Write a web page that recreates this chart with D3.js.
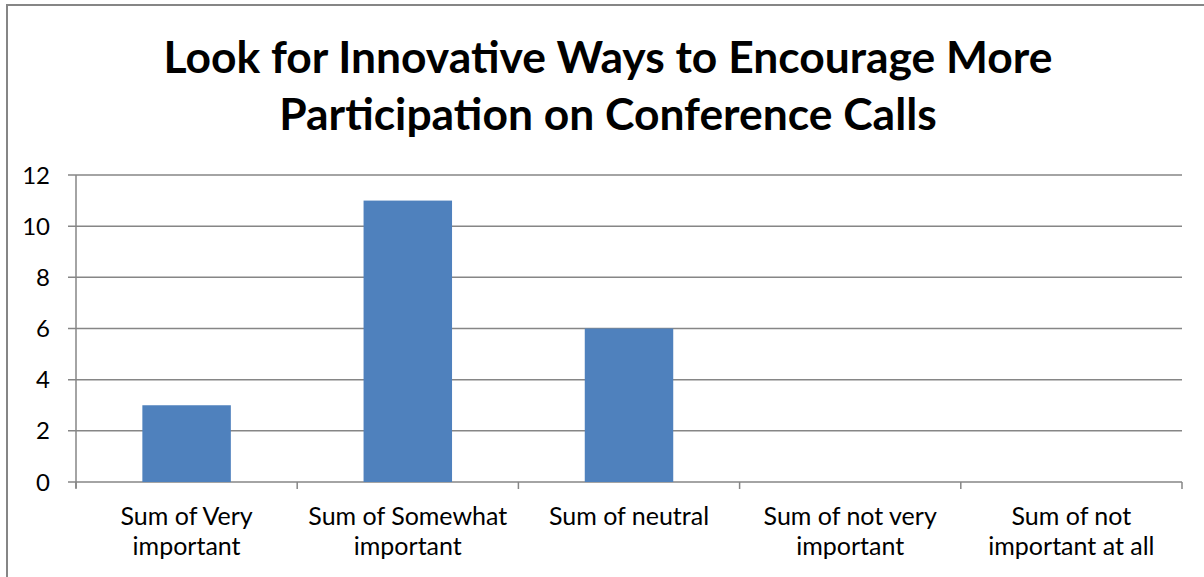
<!DOCTYPE html>
<html><head><meta charset="utf-8">
<script src="https://cdn.jsdelivr.net/npm/d3@7"></script>
<style>body{margin:0;background:#fff}svg{display:block}</style>
</head><body>
<svg id="c" width="1204" height="577"></svg>
<script>
const categories = [["Sum of Very","important"],["Sum of Somewhat","important"],["Sum of neutral"],["Sum of not very","important"],["Sum of not","important at all"]];
const values = [3, 11, 6, 0, 0];
const yTicks = [0, 2, 4, 6, 8, 10, 12];
const titleLines = ["Look for Innovative Ways to Encourage More", "Participation on Conference Calls"];

(function(){
const svg = d3.select("#c");
const font = "Lato, 'Open Sans', sans-serif";
const W = 1204, H = 577;
const pLeft = 76, pRight = 1182, pTop = 175, pBottom = 482;

svg.append("rect").attr("x",0).attr("y",0).attr("width",W).attr("height",H).attr("fill","#fff");
svg.append("rect").attr("x",7).attr("y",5).attr("width",1210).attr("height",600)
  .attr("fill","none").attr("stroke","#868686").attr("stroke-width",2);

const x = d3.scaleBand().domain(d3.range(values.length)).range([pLeft,pRight]).paddingInner(0.6).paddingOuter(0.3);
const y = d3.scaleLinear().domain([0,12]).range([pBottom,pTop]);

const g = svg.append("g");
g.selectAll("line.grid").data(yTicks).join("line")
  .attr("x1", pLeft-8).attr("x2", pRight)
  .attr("y1", d=>y(d)).attr("y2", d=>y(d))
  .attr("stroke","#868686").attr("stroke-width",1.5);
g.append("line").attr("x1",pLeft).attr("x2",pLeft).attr("y1",pTop).attr("y2",pBottom+6)
  .attr("stroke","#868686").attr("stroke-width",1.5);
g.selectAll("text.yt").data(yTicks).join("text")
  .attr("x", 50).attr("y", d=>y(d)).attr("dy","0.36em")
  .attr("text-anchor","end").attr("font-family",font).attr("font-size",24).attr("fill","#000")
  .text(d=>d);

const step = x.step();
const bounds = d3.range(values.length+1).map(i => pLeft + i*step);
g.selectAll("line.ct").data(bounds).join("line")
  .attr("x1", d=>d).attr("x2", d=>d).attr("y1", pBottom).attr("y2", pBottom+7)
  .attr("stroke","#868686").attr("stroke-width",1.5);

svg.append("g").selectAll("rect").data(values).join("rect")
  .attr("x",(d,i)=>x(i)).attr("width",x.bandwidth())
  .attr("y",d=>y(d)).attr("height",d=>y(0)-y(d))
  .attr("fill","#4F81BD");

const cl = svg.append("g");
categories.forEach((lines,i)=>{
  const cx = x(i) + x.bandwidth()/2;
  lines.forEach((t,j)=>{
    cl.append("text").attr("x",cx).attr("y",525 + j*30)
      .attr("text-anchor","middle").attr("font-family",font).attr("font-size",25).attr("fill","#000")
      .text(t);
  });
});

titleLines.forEach((t,j)=>{
  svg.append("text").attr("x",608).attr("y",73 + j*57)
    .attr("text-anchor","middle").attr("font-family",font).attr("font-weight","bold")
    .attr("font-size",44.4).attr("fill","#000").text(t);
});
})();
</script>
</body></html>
